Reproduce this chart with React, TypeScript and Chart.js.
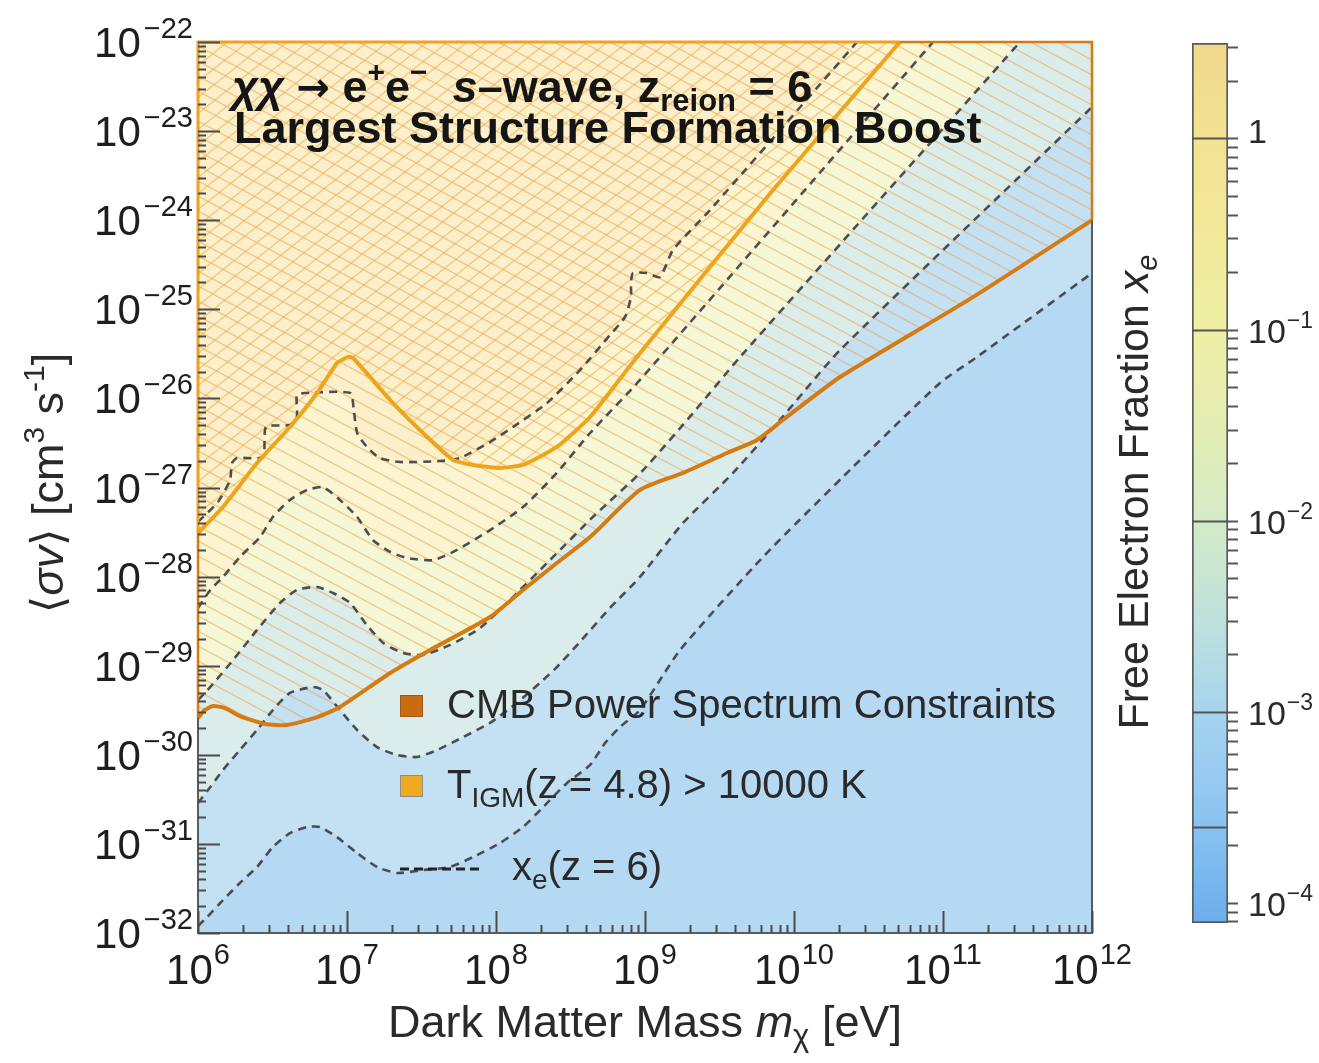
import React, { useEffect, useRef } from 'react';
import { Chart, registerables } from 'chart.js';

Chart.register(...registerables);

const CANVAS_W = 1319;
const CANVAS_H = 1063;

// ---------------- data ----------------
const massRange = [1e6, 1e12];
const sigmaRange = [1e-32, 1e-22];
const massTickExponents = [6, 7, 8, 9, 10, 11, 12];
const sigmaTickExponents = [-32, -31, -30, -29, -28, -27, -26, -25, -24, -23, -22];

// CMB power spectrum constraint
const cmbMass = [1e6, 1.11e6, 1.26e6, 1.52e6, 1.91e6, 2.82e6, 3.95e6, 6.1e6, 8.97e6, 1.95e7, 3.61e7, 9.12e7, 1.52e8, 2.56e8, 4.28e8, 9.25e8, 1.8e9, 3.55e9, 5.65e9, 8.43e9, 2.04e10, 1.59e11, 1e12];
const cmbSigma = [2.59e-30, 3.18e-30, 3.53e-30, 3.35e-30, 2.72e-30, 2.22e-30, 2.16e-30, 2.59e-30, 3.44e-30, 8.28e-30, 1.5e-29, 3.52e-29, 7.08e-29, 1.42e-28, 2.78e-28, 9.38e-28, 1.46e-27, 2.44e-27, 3.41e-27, 5.73e-27, 1.74e-26, 1.37e-25, 1.0e-24];

// T_IGM(z = 4.8) > 10000 K constraint
const tigmMass = [1e6, 1.47e6, 2.49e6, 4.14e6, 6.3e6, 8.57e6, 1.02e7, 1.1e7, 1.95e7, 3.24e7, 5.14e7, 7.02e7, 1.06e8, 1.52e8, 2.56e8, 4.28e8, 8.83e8, 7.23e9, 5.14e10];
const tigmSigma = [3.08e-28, 6.04e-28, 1.88e-27, 4.78e-27, 1.15e-26, 2.49e-26, 2.92e-26, 2.84e-26, 9.59e-27, 4.09e-27, 2.04e-27, 1.79e-27, 1.66e-27, 1.79e-27, 2.85e-27, 6.18e-27, 2.92e-26, 2.18e-24, 1e-22];

// x_e(z = 6) contours, highest level first
const c1Mass = [1e6, 1.36e6, 1.64e6, 1.69e6, 1.83e6, 2.73e6, 2.86e6, 4.14e6, 4.61e6, 4.61e6, 5.22e6, 1.05e7, 1.11e7, 1.17e7, 1.36e7, 1.66e7, 2.27e7, 4.21e7, 5.73e7, 9.12e7, 1.3e8, 2.2e8, 3.66e8, 5.82e8, 7.35e8, 8.05e8, 8.05e8, 8.3e8, 1.03e9, 1.26e9, 1.54e9, 2.73e9, 2.65e10];
const c1Sigma = [4.1e-28, 6.87e-28, 1.21e-27, 1.88e-27, 2.14e-27, 2.2e-27, 4.78e-27, 5.02e-27, 6.18e-27, 1.09e-26, 1.15e-26, 1.15e-26, 7.41e-27, 4.09e-27, 2.85e-27, 2.14e-27, 1.93e-27, 1.98e-27, 2.14e-27, 3.24e-27, 4.78e-27, 8.87e-27, 2.08e-26, 5.15e-26, 8.2e-26, 1.37e-25, 1.97e-25, 2.55e-25, 2.55e-25, 2.3e-25, 4.63e-25, 1.3e-24, 1e-22];

const c2Mass = [1e6, 1.21e6, 1.47e6, 1.91e6, 2.61e6, 3.18e6, 4.14e6, 5.4e6, 6.9e6, 8.97e6, 1.17e7, 1.49e7, 1.95e7, 2.53e7, 3.78e7, 5.47e7, 9.12e7, 1.52e8, 2.56e8, 4.28e8, 9.25e8, 8.57e10];
const c2Sigma = [4.45e-29, 7.08e-29, 9.91e-29, 1.66e-28, 2.78e-28, 4.67e-28, 7.24e-28, 9.38e-28, 1.01e-27, 7.24e-28, 4.67e-28, 2.58e-28, 1.89e-28, 1.62e-28, 1.53e-28, 1.99e-28, 3.33e-28, 6.04e-28, 1.46e-27, 4.09e-27, 1.61e-26, 1e-22];

const c3Mass = [1e6, 1.21e6, 1.72e6, 2.49e6, 3.55e6, 4.61e6, 6.3e6, 8.05e6, 1.05e7, 1.36e7, 1.75e7, 2.38e7, 3.24e7, 4.91e7, 7.82e7, 1.24e8, 2.3e8, 4.61e8, 9.71e8, 2.1e9, 4.35e9, 3.29e11];
const c3Sigma = [4.12e-30, 5.77e-30, 1.16e-29, 2.52e-29, 5.06e-29, 7.08e-29, 7.64e-29, 6.55e-29, 5.06e-29, 2.86e-29, 1.8e-29, 1.39e-29, 1.32e-29, 1.71e-29, 2.65e-29, 5.46e-29, 1.53e-28, 4.91e-28, 1.57e-27, 6.85e-27, 2.92e-26, 1e-22];

const c4Mass = [1e6, 1.21e6, 1.47e6, 1.91e6, 2.49e6, 3.18e6, 4.14e6, 5.92e6, 6.9e6, 8.97e6, 1.17e7, 1.59e7, 2.17e7, 2.95e7, 4.02e7, 6.01e7, 9.12e7, 1.38e8, 1.97e8, 2.56e8, 3.66e8, 5.82e8, 9.25e8, 1.8e9, 3.9e9, 8.05e9, 2.04e10, 1e12];
const c4Sigma = [2.88e-31, 4.36e-31, 6.75e-31, 1.13e-30, 1.9e-30, 3.18e-30, 4.94e-30, 5.77e-30, 5.33e-30, 3.18e-30, 1.9e-30, 1.22e-30, 9.95e-31, 9.44e-31, 1.13e-30, 1.58e-30, 2.28e-30, 3.82e-30, 6.4e-30, 9.66e-30, 1.85e-29, 4.45e-29, 9.91e-29, 4.0e-28, 1.46e-27, 5.73e-27, 3.49e-26, 1.86e-23];

const c5Mass = [1e6, 1.15e6, 1.47e6, 1.91e6, 2.49e6, 3.18e6, 4.14e6, 5.4e6, 6.59e6, 8.57e6, 1.17e7, 1.59e7, 2.17e7, 3.24e7, 4.91e7, 7.02e7, 1.06e8, 1.52e8, 2.07e8, 3.0e8, 4.28e8, 5.4e8, 6.79e8, 9.25e8, 1.72e9, 6.19e9, 2.49e10, 9.55e10, 1.69e11, 1e12];
const c5Sigma = [1.2e-32, 1.51e-32, 2.34e-32, 3.64e-32, 5.51e-32, 9.23e-32, 1.32e-31, 1.55e-31, 1.55e-31, 1.19e-31, 7.91e-32, 5.51e-32, 4.71e-32, 5.09e-32, 5.51e-32, 7.13e-32, 1.02e-31, 1.55e-31, 2.59e-31, 4.83e-31, 7.69e-31, 1.36e-30, 2.05e-30, 3.18e-30, 1.5e-29, 1.66e-28, 1.7e-27, 1.49e-26, 2.92e-26, 2.55e-25];

// colour bar (free electron fraction)
const colorbarRange = [7.85e-5, 3.16];
const colorbarLevels = [1, 0.1, 0.01, 0.001, 2.5e-4];
const colorbarTickExponents = [0, -1, -2, -3, -4];

// texts
const xTitle = ['Dark Matter Mass ', 'm', 'χ', ' [eV]'];
const yTitle = ['⟨', 'σv', '⟩ [cm', '3', ' s', '-1', ']'];
const cbTitle = ['Free Electron Fraction ', 'x', 'e'];
const titleLine1 = ['χχ', ' ', '→', ' e', '+', 'e', '−', '  ', 's', '–wave, z', 'reion', ' = 6'];
const titleLine2 = 'Largest Structure Formation Boost';
const legendCmb = 'CMB Power Spectrum Constraints';
const legendTigm = ['T', 'IGM', '(z = 4.8) > 10000 K'];
const legendXe = ['x', 'e', '(z = 6)'];

// ---------------- styles ----------------
const FAMILY = '"Liberation Sans", Arial, Helvetica, "DejaVu Sans", sans-serif';
const bandColors = ['#fcf0cb', '#fbf6d1', '#f5f8d7', '#dbedea', '#c4e0f3', '#b5d8f3'];
const cbStopValues = [3.16, 1, 0.3, 0.1, 0.03, 0.01, 0.003, 0.001, 3e-4, 1e-4, 7.85e-5];
const cbStopColors = ['#f1d88c', '#f2e292', '#f1ea9a', '#eef0a4', '#e4eeb4', '#d4eac8', '#bfe1dc', '#a7d4ee', '#8dc5f2', '#70b2ee', '#6aaeec'];
const CMB_COLOR = '#d67a12';
const TIGM_COLOR = '#eea51c';
const DASH_COLOR = 'rgba(58,60,68,0.9)';

type Run = { t: string; size: number; italic?: boolean; bold?: boolean; dy?: number; dx?: number; family?: string };
const fontOf = (r: Run) => `${r.italic ? 'italic ' : ''}${r.bold ? 'bold ' : ''}${r.size}px ${r.family || FAMILY}`;

function runsWidth(ctx: CanvasRenderingContext2D, runs: Run[]) {
  let w = 0;
  for (const r of runs) {
    ctx.font = fontOf(r);
    w += ctx.measureText(r.t).width + (r.dx || 0);
  }
  return w;
}

function drawRuns(ctx: CanvasRenderingContext2D, runs: Run[], x: number, y: number, align: 'left' | 'center' | 'right', color: string) {
  const w = runsWidth(ctx, runs);
  let cx = align === 'left' ? x : align === 'center' ? x - w / 2 : x - w;
  ctx.fillStyle = color;
  ctx.textAlign = 'left';
  ctx.textBaseline = 'alphabetic';
  for (const r of runs) {
    ctx.font = fontOf(r);
    cx += r.dx || 0;
    ctx.fillText(r.t, cx, y + (r.dy || 0));
    cx += ctx.measureText(r.t).width;
  }
}

const toPoints = (xs: number[], ys: number[]) => xs.map((x, i) => ({ x, y: ys[i] }));

function hatchPattern(chart: any, key: string, w: number, h: number, dir: number, color: string, lw: number) {
  const store = chart.$hatch || (chart.$hatch = {});
  if (store[key]) return store[key];
  const c = document.createElement('canvas');
  c.width = w;
  c.height = h;
  const g = c.getContext('2d')!;
  g.strokeStyle = color;
  g.lineWidth = lw;
  for (const oy of [-h, 0, h]) {
    g.beginPath();
    if (dir > 0) {
      g.moveTo(-w, -h + oy);
      g.lineTo(2 * w, 2 * h + oy);
    } else {
      g.moveTo(-w, 2 * h + oy);
      g.lineTo(2 * w, -h + oy);
    }
    g.stroke();
  }
  const p = chart.ctx.createPattern(c, 'repeat');
  store[key] = p;
  return p;
}

function regionAbove(chart: any, idx: number) {
  const meta = chart.getDatasetMeta(idx);
  const a = chart.chartArea;
  const ctx: CanvasRenderingContext2D = chart.ctx;
  const line: any = meta.dataset;
  line.updateControlPoints(a, 'x');
  ctx.beginPath();
  line.path(ctx);
  ctx.lineTo(a.right, a.top);
  ctx.lineTo(a.left, a.top);
  ctx.closePath();
}

function edgeStroke(chart: any, idx: number, color: string) {
  const meta = chart.getDatasetMeta(idx);
  const a = chart.chartArea;
  const ctx: CanvasRenderingContext2D = chart.ctx;
  const pts = meta.data;
  const first = pts[0];
  const last = pts[pts.length - 1];
  ctx.beginPath();
  ctx.moveTo(a.left, first.y);
  ctx.lineTo(a.left, a.top);
  if (last.y <= a.top + 1) {
    ctx.lineTo(last.x, a.top);
  } else {
    ctx.lineTo(a.right, a.top);
    ctx.lineTo(a.right, last.y);
  }
  ctx.strokeStyle = color;
  ctx.lineWidth = 2.5;
  ctx.stroke();
}

const expText = (e: number) => (e < 0 ? '−' + String(-e) : String(e));

const mainPlugin = {
  id: 'mainDecor',
  beforeDatasetsDraw(chart: any) {
    const ctx: CanvasRenderingContext2D = chart.ctx;
    const a = chart.chartArea;
    ctx.save();
    ctx.beginPath();
    ctx.rect(a.left, a.top, a.right - a.left, a.bottom - a.top);
    ctx.clip();
    ctx.fillStyle = bandColors[5];
    ctx.fillRect(a.left, a.top, a.right - a.left, a.bottom - a.top);
    for (let k = 4; k >= 0; k--) {
      regionAbove(chart, 2 + k);
      ctx.fillStyle = bandColors[k];
      ctx.fill();
    }
    regionAbove(chart, 0);
    ctx.fillStyle = hatchPattern(chart, 'desc', 28, 15, 1, 'rgba(236,160,74,0.55)', 1.4);
    ctx.fill();
    regionAbove(chart, 1);
    ctx.fillStyle = hatchPattern(chart, 'asc', 20, 16, -1, 'rgba(238,172,74,0.55)', 1.4);
    ctx.fill();
    ctx.restore();
  },
  afterDatasetsDraw(chart: any) {
    const ctx: CanvasRenderingContext2D = chart.ctx;
    const a = chart.chartArea;
    const xs = chart.scales.x;
    const ys = chart.scales.y;
    ctx.save();
    ctx.strokeStyle = '#5c5c5c';
    ctx.lineWidth = 2;
    ctx.strokeRect(a.left, a.top, a.right - a.left, a.bottom - a.top);
    edgeStroke(chart, 0, CMB_COLOR);
    edgeStroke(chart, 1, TIGM_COLOR);
    ctx.strokeStyle = '#4a4a4a';
    ctx.lineWidth = 2;
    for (const e of massTickExponents) {
      for (let k = 1; k <= 9; k++) {
        const v = k * Math.pow(10, e);
        if (v > massRange[1] * 1.0001) break;
        const px = Math.round(xs.getPixelForValue(v)) + 0.5;
        const len = k === 1 ? 22 : 8;
        ctx.beginPath();
        ctx.moveTo(px, a.bottom);
        ctx.lineTo(px, a.bottom - len);
        ctx.stroke();
      }
    }
    for (const e of sigmaTickExponents) {
      for (let k = 1; k <= 9; k++) {
        const v = k * Math.pow(10, e);
        if (v > sigmaRange[1] * 1.0001) break;
        const py = Math.round(ys.getPixelForValue(v)) + 0.5;
        const len = k === 1 ? 22 : 8;
        ctx.beginPath();
        ctx.moveTo(a.left, py);
        ctx.lineTo(a.left + len, py);
        ctx.stroke();
      }
    }
    ctx.restore();
  },
  afterDraw(chart: any) {
    const ctx: CanvasRenderingContext2D = chart.ctx;
    const a = chart.chartArea;
    const xs = chart.scales.x;
    const ys = chart.scales.y;
    ctx.save();
    const tickColor = '#1e1e1e';
    for (const e of massTickExponents) {
      const px = xs.getPixelForValue(Math.pow(10, e));
      drawRuns(ctx, [{ t: '10', size: 42 }, { t: expText(e), size: 29, dy: -20, dx: 1 }], px, a.bottom + 51, 'center', tickColor);
    }
    for (const e of sigmaTickExponents) {
      const py = ys.getPixelForValue(Math.pow(10, e));
      drawRuns(ctx, [{ t: '10', size: 42 }, { t: expText(e), size: 29, dy: -19, dx: 3 }], 193, py + 15, 'right', tickColor);
    }
    drawRuns(ctx, [
      { t: xTitle[0], size: 45 },
      { t: xTitle[1], size: 45, italic: true },
      { t: xTitle[2], size: 31, dy: 9 },
      { t: xTitle[3], size: 45 },
    ], (a.left + a.right) / 2, 1037, 'center', '#2a2a2a');

    ctx.save();
    ctx.translate(63, 483);
    ctx.rotate(-Math.PI / 2);
    drawRuns(ctx, [
      { t: yTitle[0], size: 45 },
      { t: yTitle[1], size: 45, italic: true },
      { t: yTitle[2], size: 45 },
      { t: yTitle[3], size: 30, dy: -19 },
      { t: yTitle[4], size: 45 },
      { t: yTitle[5], size: 30, dy: -19 },
      { t: yTitle[6], size: 45 },
    ], 0, 0, 'center', '#2a2a2a');
    ctx.restore();

    drawRuns(ctx, [
      { t: titleLine1[0], size: 45, bold: true, italic: true },
      { t: titleLine1[1], size: 45, bold: true },
      { t: titleLine1[2], size: 40, bold: true, family: '"DejaVu Sans", sans-serif', dy: -1 },
      { t: titleLine1[3], size: 45, bold: true },
      { t: titleLine1[4], size: 30, bold: true, dy: -20 },
      { t: titleLine1[5], size: 45, bold: true },
      { t: titleLine1[6], size: 30, bold: true, dy: -20 },
      { t: titleLine1[7], size: 45, bold: true },
      { t: titleLine1[8], size: 45, bold: true, italic: true },
      { t: titleLine1[9], size: 45, bold: true },
      { t: titleLine1[10], size: 31, bold: true, dy: 9 },
      { t: titleLine1[11], size: 45, bold: true },
    ], 232, 102, 'left', '#151515');
    drawRuns(ctx, [{ t: titleLine2, size: 45, bold: true }], 234, 143, 'left', '#151515');

    ctx.fillStyle = '#c96b0e';
    ctx.fillRect(400, 695, 23, 22);
    ctx.strokeStyle = '#9c5a1c';
    ctx.lineWidth = 1;
    ctx.strokeRect(400.5, 695.5, 22, 21);
    drawRuns(ctx, [{ t: legendCmb, size: 40 }], 447, 718, 'left', '#2a2a2a');

    ctx.fillStyle = '#efaa22';
    ctx.fillRect(400, 775, 23, 22);
    ctx.strokeStyle = '#8d8d8d';
    ctx.strokeRect(400.5, 775.5, 22, 21);
    drawRuns(ctx, [
      { t: legendTigm[0], size: 40 },
      { t: legendTigm[1], size: 28, dy: 9 },
      { t: legendTigm[2], size: 40 },
    ], 447, 798, 'left', '#2a2a2a');

    ctx.strokeStyle = '#222';
    ctx.lineWidth = 3;
    ctx.setLineDash([9, 5]);
    ctx.beginPath();
    ctx.moveTo(400, 869);
    ctx.lineTo(482, 869);
    ctx.stroke();
    ctx.setLineDash([]);
    drawRuns(ctx, [
      { t: legendXe[0], size: 40 },
      { t: legendXe[1], size: 28, dy: 9 },
      { t: legendXe[2], size: 40 },
    ], 512, 880, 'left', '#2a2a2a');
    ctx.restore();
  },
};

const cbPlugin = {
  id: 'cbDecor',
  afterDatasetsDraw(chart: any) {
    const ctx: CanvasRenderingContext2D = chart.ctx;
    const a = chart.chartArea;
    const ys = chart.scales.y;
    ctx.save();
    ctx.strokeStyle = '#555';
    ctx.lineWidth = 2;
    for (const lv of colorbarLevels) {
      const py = Math.round(ys.getPixelForValue(lv)) + 0.5;
      ctx.beginPath();
      ctx.moveTo(a.left, py);
      ctx.lineTo(a.right, py);
      ctx.stroke();
    }
    const eMin = Math.floor(Math.log10(colorbarRange[0]));
    const eMax = Math.floor(Math.log10(colorbarRange[1]));
    for (let e = eMin; e <= eMax; e++) {
      for (let k = 1; k <= 9; k++) {
        const v = k * Math.pow(10, e);
        if (v < colorbarRange[0] || v > colorbarRange[1]) continue;
        const py = Math.round(ys.getPixelForValue(v)) + 0.5;
        ctx.beginPath();
        ctx.moveTo(a.right, py);
        ctx.lineTo(a.right + 10, py);
        ctx.stroke();
      }
    }
    for (const e of colorbarTickExponents) {
      const py = ys.getPixelForValue(Math.pow(10, e));
      if (e === 0) {
        drawRuns(ctx, [{ t: '1', size: 34 }], a.right + 20, py + 5, 'left', '#2a2a2a');
      } else {
        drawRuns(ctx, [{ t: '10', size: 34 }, { t: expText(e), size: 23, dy: -15, dx: 1 }], a.right + 20, py + 13, 'left', '#2a2a2a');
      }
    }
    ctx.save();
    ctx.translate(48, 492);
    ctx.rotate(-Math.PI / 2);
    drawRuns(ctx, [
      { t: cbTitle[0], size: 43 },
      { t: cbTitle[1], size: 43, italic: true },
      { t: cbTitle[2], size: 29, italic: true, dy: 9 },
    ], 0, 0, 'center', '#2a2a2a');
    ctx.restore();
    ctx.restore();
  },
};

function mainConfig(): any {
  const contour = (xs: number[], ys: number[], label: string) => ({
    label,
    data: toPoints(xs, ys),
    borderColor: DASH_COLOR,
    borderWidth: 2.6,
    borderDash: [8, 6],
    pointRadius: 0,
    pointHitRadius: 0,
    tension: 0.2,
    fill: false,
  });
  return {
    type: 'line',
    data: {
      datasets: [
        { label: 'CMB Power Spectrum Constraints', data: toPoints(cmbMass, cmbSigma), borderColor: CMB_COLOR, borderWidth: 4, pointRadius: 0, pointHitRadius: 0, tension: 0.2, fill: false },
        { label: 'T_IGM(z = 4.8) > 10000 K', data: toPoints(tigmMass, tigmSigma), borderColor: TIGM_COLOR, borderWidth: 4, pointRadius: 0, pointHitRadius: 0, tension: 0.15, fill: false },
        contour(c1Mass, c1Sigma, 'x_e contour 1'),
        contour(c2Mass, c2Sigma, 'x_e contour 2'),
        contour(c3Mass, c3Sigma, 'x_e contour 3'),
        contour(c4Mass, c4Sigma, 'x_e contour 4'),
        contour(c5Mass, c5Sigma, 'x_e contour 5'),
      ],
    },
    options: {
      responsive: false,
      maintainAspectRatio: false,
      animation: false,
      events: [],
      layout: { padding: { left: 198, top: 42, right: CANVAS_W - 1092, bottom: CANVAS_H - 933 } },
      plugins: { legend: { display: false }, tooltip: { enabled: false }, title: { display: false } },
      scales: {
        x: { type: 'logarithmic', min: massRange[0], max: massRange[1], display: false },
        y: { type: 'logarithmic', min: sigmaRange[0], max: sigmaRange[1], display: false },
      },
    },
    plugins: [mainPlugin],
  };
}

function cbConfig(): any {
  return {
    type: 'bar',
    data: {
      labels: ['x_e'],
      datasets: [
        {
          label: 'Free Electron Fraction',
          data: [[colorbarRange[0], colorbarRange[1]]],
          backgroundColor: (c: any) => {
            const ch = c.chart;
            const a = ch.chartArea;
            if (!a || !ch.scales.y) return '#cfe3c0';
            const ys = ch.scales.y;
            const g = ch.ctx.createLinearGradient(0, a.top, 0, a.bottom);
            cbStopValues.forEach((v, i) => {
              const p = (ys.getPixelForValue(v) - a.top) / (a.bottom - a.top);
              g.addColorStop(Math.min(1, Math.max(0, p)), cbStopColors[i]);
            });
            return g;
          },
          borderColor: '#5a5a5a',
          borderWidth: 2,
          borderSkipped: false,
          barPercentage: 1,
          categoryPercentage: 1,
        },
      ],
    },
    options: {
      responsive: false,
      maintainAspectRatio: false,
      animation: false,
      events: [],
      layout: { padding: { left: 92, right: 91, top: 43, bottom: CANVAS_H - 923 } },
      plugins: { legend: { display: false }, tooltip: { enabled: false } },
      scales: {
        x: { display: false },
        y: { type: 'logarithmic', min: colorbarRange[0], max: colorbarRange[1], display: false },
      },
    },
    plugins: [cbPlugin],
  };
}

export default function App() {
  const mainRef = useRef<HTMLCanvasElement>(null);
  const cbRef = useRef<HTMLCanvasElement>(null);
  useEffect(() => {
    const main = new Chart(mainRef.current!, mainConfig());
    const cb = new Chart(cbRef.current!, cbConfig());
    return () => {
      main.destroy();
      cb.destroy();
    };
  }, []);
  return (
    <div style={{ position: 'fixed', left: 0, top: 0, width: CANVAS_W, height: CANVAS_H, background: '#ffffff' }}>
      <canvas ref={mainRef} width={CANVAS_W} height={CANVAS_H} style={{ position: 'absolute', left: 0, top: 0, width: CANVAS_W, height: CANVAS_H }} />
      <canvas ref={cbRef} width={219} height={CANVAS_H} style={{ position: 'absolute', left: 1100, top: 0, width: 219, height: CANVAS_H }} />
    </div>
  );
}
